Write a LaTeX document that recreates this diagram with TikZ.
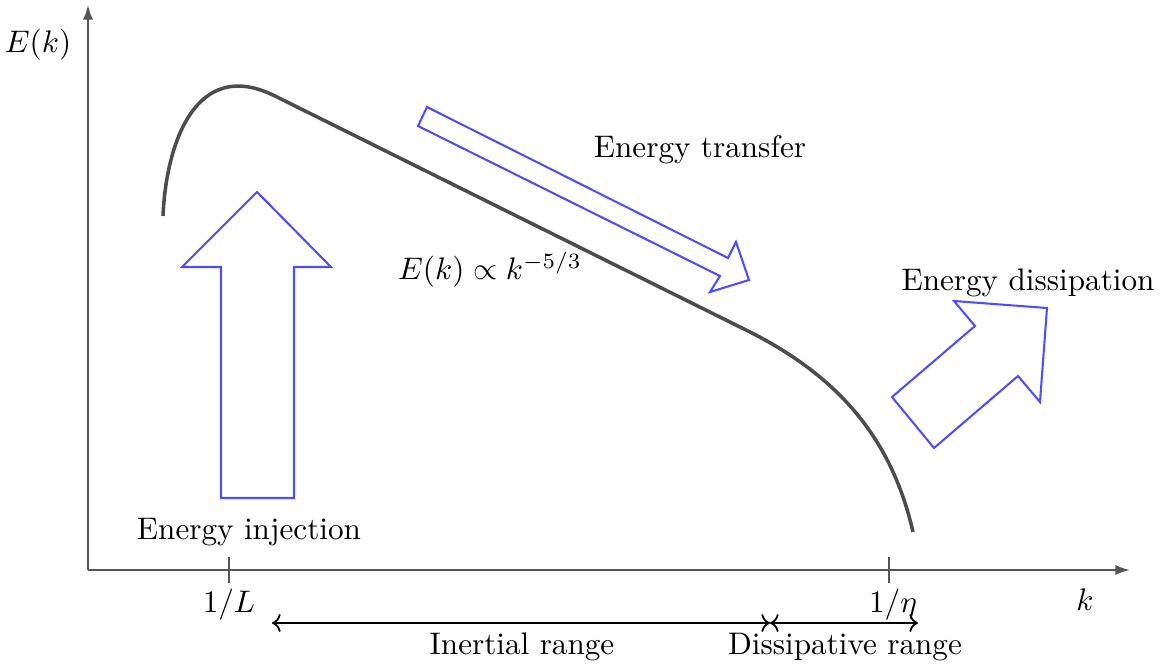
\documentclass[tikz,border=0pt]{standalone}
\usetikzlibrary{arrows.meta}
\definecolor{arrowblue}{RGB}{77,77,255}
\definecolor{axisgray}{RGB}{85,85,85}
\begin{document}
\begin{tikzpicture}[x=0.34pt,y=-0.34pt,every node/.style={scale=1.06},
  axis/.style={axisgray,line width=0.75pt,-{Latex[length=5pt,width=3.5pt]}},
  bigarrow/.style={arrowblue,line width=0.7pt,line join=miter},
  rangearrow/.style={line width=0.6pt,<->,>=To}]
  \useasboundingbox (0,0) rectangle (1165,668);
  % axes
  \coordinate (O) at (88,570);
  \draw[axis] (O) -- (88,5);
  \draw[axis] (O) -- (1130,570);
  \draw[axisgray,line width=0.75pt] (229,557) -- (229,583);
  \draw[axisgray,line width=0.75pt] (889,557) -- (889,583);
  \node (Ek) at (38,45) {$E(k)$};
  \node (k) at (1085,600) {$k$};
  \node (L) at (229,605) {$1/L$};
  \node (eta) at (893,605) {$1/\eta$};
  % spectrum
  \draw[axisgray!90!black,line width=1.2pt] (163,216) .. controls (166,145) and (195,56) .. (275,96)
    -- (748,331) .. controls (840,377) and (892,440) .. (913,532);
  \node (law) at (490,270) {$E(k)\propto k^{-5/3}$};
  % energy arrows
  \draw[bigarrow] (221,498) -- (294,498) -- (294,267) -- (331,267) -- (257,192) -- (182,267) -- (221,267) -- cycle;
  \node (inj) at (249,532) {Energy injection};
  \draw[bigarrow] (427,107) -- (728,258) -- (736,242) -- (749,280) -- (710,292) -- (720,276) -- (418,126) -- cycle;
  \node (trans) at (700,150) {Energy transfer};
  \draw[bigarrow] (892,397) -- (975,326) -- (954,301) -- (1047,308) -- (1040,402) -- (1018,376) -- (934,448) -- cycle;
  \node (diss) at (1028,283) {Energy dissipation};
  % ranges
  \coordinate (r0) at (272,623);
  \coordinate (r1) at (770,623);
  \coordinate (r2) at (918,623);
  \draw[rangearrow] (r0) -- (r1);
  \draw[rangearrow] (r1) -- (r2);
  \node (inert) at (522,647) {Inertial range};
  \node (dissr) at (845,647) {Dissipative range};
\end{tikzpicture}
\end{document}
